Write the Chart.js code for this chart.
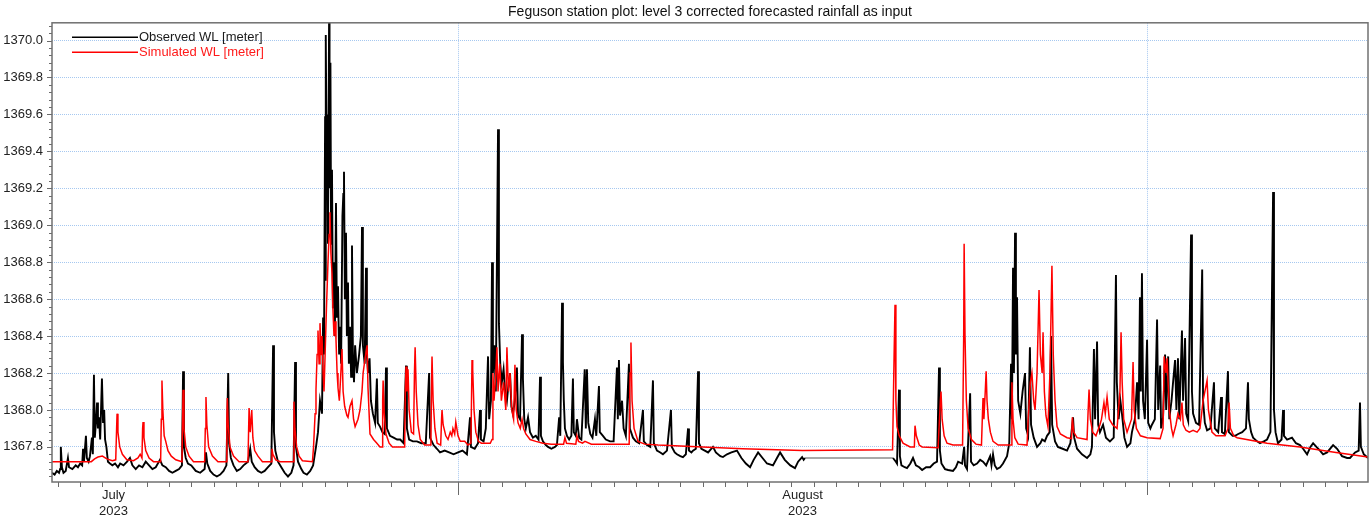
<!DOCTYPE html>
<html>
<head>
<meta charset="utf-8">
<script src="https://cdn.jsdelivr.net/npm/chart.js@4.4.0/dist/chart.umd.min.js"></script>
<style>
  html, body { margin: 0; padding: 0; background: #fff; }
  #wrap { width: 1371px; height: 522px; }
</style>
</head>
<body>
<div id="wrap"><canvas id="wlChart" width="1371" height="522"></canvas></div>
<script>
// time is in days counted from 1 July 2023 00:00, levels in metres
const observedWL = [
  [12.73,1367.66],[12.85,1367.65],[12.95,1367.67],[13.05,1367.66],[13.10,1367.68],[13.13,1367.80],[13.18,1367.69],[13.25,1367.66],
  [13.35,1367.67],[13.45,1367.74],[13.50,1367.69],[13.65,1367.68],[13.80,1367.70],[13.90,1367.69],[14.00,1367.71],[14.09,1367.70],
  [14.13,1367.79],[14.17,1367.72],[14.26,1367.86],[14.30,1367.74],[14.38,1367.72],[14.44,1367.75],[14.53,1367.85],[14.57,1367.76],
  [14.62,1368.19],[14.66,1367.85],[14.72,1367.95],[14.76,1368.04],[14.80,1367.90],[14.85,1367.96],[14.90,1367.84],[14.98,1368.17],
  [15.03,1367.93],[15.08,1368.00],[15.12,1367.84],[15.18,1367.80],[15.25,1367.72],[15.34,1367.71],[15.45,1367.70],[15.57,1367.71],
  [15.70,1367.69],[15.80,1367.71],[15.95,1367.70],[16.11,1367.72],[16.24,1367.74],[16.35,1367.70],[16.50,1367.68],[16.65,1367.70],
  [16.80,1367.69],[16.95,1367.72],[17.10,1367.70],[17.25,1367.68],[17.40,1367.69],[17.59,1367.73],[17.70,1367.70],[17.85,1367.69],
  [18.00,1367.67],[18.15,1367.66],[18.30,1367.67],[18.45,1367.68],[18.58,1367.70],[18.63,1368.21],[18.67,1367.80],[18.75,1367.74],
  [18.85,1367.71],[19.00,1367.70],[19.20,1367.67],[19.40,1367.66],[19.60,1367.68],[19.66,1367.77],[19.72,1367.71],[19.85,1367.67],
  [20.00,1367.65],[20.15,1367.64],[20.30,1367.65],[20.45,1367.67],[20.58,1367.70],[20.66,1368.20],[20.70,1367.82],[20.78,1367.74],
  [20.90,1367.70],[21.05,1367.67],[21.20,1367.68],[21.35,1367.70],[21.55,1367.72],[21.65,1367.79],[21.72,1367.72],[21.85,1367.69],
  [22.00,1367.67],[22.15,1367.66],[22.30,1367.67],[22.45,1367.69],[22.60,1367.71],[22.68,1368.35],[22.72,1367.88],[22.78,1367.78],
  [22.90,1367.72],[23.05,1367.69],[23.20,1367.66],[23.35,1367.64],[23.50,1367.66],[23.60,1367.70],[23.67,1368.26],[23.71,1367.80],
  [23.80,1367.72],[23.95,1367.68],[24.05,1367.66],[24.20,1367.65],[24.35,1367.67],[24.48,1367.70],[24.61,1367.80],[24.70,1367.88],
  [24.79,1368.05],[24.88,1367.98],[24.93,1368.50],[24.97,1368.30],[25.02,1369.59],[25.04,1368.70],[25.06,1370.03],[25.09,1369.30],
  [25.11,1369.60],[25.15,1368.90],[25.20,1370.15],[25.22,1369.20],[25.26,1369.88],[25.29,1368.90],[25.33,1369.30],[25.37,1368.55],
  [25.42,1368.80],[25.46,1368.40],[25.51,1369.12],[25.55,1368.50],[25.60,1368.67],[25.65,1368.30],[25.70,1368.45],[25.74,1368.25],
  [25.80,1369.05],[25.84,1369.17],[25.87,1369.29],[25.91,1368.60],[25.96,1368.96],[26.00,1368.40],[26.05,1368.69],[26.09,1368.25],
  [26.14,1368.45],[26.19,1368.18],[26.23,1368.89],[26.27,1368.30],[26.32,1368.15],[26.37,1368.35],[26.45,1368.20],[26.55,1368.30],
  [26.63,1368.40],[26.68,1368.99],[26.72,1368.35],[26.80,1368.25],[26.86,1368.77],[26.90,1368.30],[26.95,1368.20],[27.02,1368.28],
  [27.08,1368.05],[27.17,1367.98],[27.27,1367.93],[27.35,1368.17],[27.39,1367.93],[27.49,1367.91],[27.60,1367.88],[27.70,1367.87],
  [27.76,1368.23],[27.80,1367.90],[27.94,1367.86],[28.10,1367.85],[28.26,1367.84],[28.40,1367.84],[28.55,1367.82],[28.66,1368.24],
  [28.70,1367.90],[28.80,1367.84],[28.97,1367.83],[29.15,1367.83],[29.35,1367.82],[29.55,1367.82],[29.70,1368.20],[29.74,1367.85],
  [29.90,1367.81],[30.05,1367.79],[30.19,1367.77],[30.40,1367.78],[30.60,1367.77],[30.80,1367.76],[31.00,1367.77],[31.20,1367.78],
  [31.40,1367.76],[31.54,1367.96],[31.58,1367.80],[31.75,1367.79],[31.90,1367.82],[31.99,1368.00],[32.03,1367.84],[32.15,1367.83],
  [32.25,1367.90],[32.35,1368.29],[32.40,1367.95],[32.48,1368.05],[32.53,1368.80],[32.57,1368.20],[32.63,1368.35],[32.70,1368.10],
  [32.80,1369.52],[32.84,1368.47],[32.90,1368.25],[32.97,1368.15],[33.05,1368.22],[33.12,1368.10],[33.20,1368.05],[33.28,1368.15],
  [33.34,1368.20],[33.40,1368.02],[33.47,1367.98],[33.56,1368.05],[33.65,1368.23],[33.70,1367.97],[33.79,1367.95],[33.88,1368.41],
  [33.92,1368.17],[33.98,1367.95],[34.05,1367.90],[34.15,1367.96],[34.24,1367.88],[34.37,1367.85],[34.50,1367.86],[34.62,1367.84],
  [34.69,1368.18],[34.73,1367.86],[34.82,1367.83],[34.95,1367.81],[35.05,1367.80],[35.20,1367.79],[35.36,1367.80],[35.45,1367.81],
  [35.55,1367.96],[35.60,1367.86],[35.68,1368.58],[35.72,1368.26],[35.76,1368.05],[35.81,1367.90],[35.90,1367.86],[36.00,1367.84],
  [36.10,1367.86],[36.17,1368.17],[36.21,1367.88],[36.30,1367.86],[36.35,1367.95],[36.45,1367.85],[36.55,1367.84],[36.70,1368.22],
  [36.75,1367.90],[36.80,1368.22],[36.86,1367.93],[36.95,1367.87],[37.05,1367.85],[37.16,1367.95],[37.22,1367.86],[37.34,1368.13],
  [37.38,1367.88],[37.52,1367.86],[37.65,1367.84],[37.84,1367.83],[38.00,1367.83],[38.15,1368.23],[38.19,1367.95],[38.24,1368.27],
  [38.29,1367.97],[38.38,1368.05],[38.45,1367.90],[38.55,1367.86],[38.69,1368.25],[38.73,1367.90],[38.87,1367.85],[39.00,1367.83],
  [39.15,1367.82],[39.32,1368.00],[39.36,1367.83],[39.50,1367.81],[39.65,1367.80],[39.77,1368.16],[39.81,1367.82],[39.95,1367.78],
  [40.10,1367.77],[40.22,1367.76],[40.40,1367.78],[40.58,1368.00],[40.62,1367.80],[40.75,1367.77],[40.85,1367.76],[41.00,1367.75],
  [41.12,1367.745],[41.25,1367.76],[41.35,1367.90],[41.39,1367.78],[41.50,1367.77],[41.57,1367.78],[41.70,1367.79],[41.80,1368.21],
  [41.84,1367.82],[41.95,1367.79],[42.10,1367.78],[42.25,1367.77],[42.47,1367.80],[42.60,1367.77],[42.80,1367.75],[42.92,1367.745],
  [43.10,1367.76],[43.30,1367.77],[43.55,1367.78],[43.75,1367.74],[43.95,1367.71],[44.14,1367.69],[44.30,1367.73],[44.50,1367.77],
  [44.70,1367.74],[44.90,1367.71],[45.17,1367.70],[45.35,1367.74],[45.49,1367.77],[45.70,1367.73],[45.95,1367.70],[46.16,1367.685],
  [46.30,1367.72],[46.48,1367.745],[46.55,1367.73],[46.61,1367.74],[50.57,1367.74],[50.70,1367.72],[50.75,1367.71],[50.84,1368.11],
  [50.88,1367.75],[50.95,1367.70],[51.10,1367.69],[51.20,1367.685],[51.35,1367.71],[51.47,1367.74],[51.60,1367.70],[51.75,1367.69],
  [51.88,1367.675],[52.06,1367.69],[52.24,1367.69],[52.40,1367.71],[52.55,1367.72],[52.64,1368.23],[52.68,1367.78],[52.75,1367.71],
  [52.91,1367.68],[53.05,1367.675],[53.27,1367.67],[53.40,1367.69],[53.50,1367.72],[53.68,1367.71],[53.77,1367.80],[53.81,1367.70],
  [53.90,1367.68],[54.04,1368.09],[54.08,1367.72],[54.20,1367.70],[54.35,1367.71],[54.49,1367.73],[54.62,1367.72],[54.76,1367.70],
  [54.94,1367.75],[55.00,1367.70],[55.07,1367.76],[55.15,1367.70],[55.25,1367.68],[55.39,1367.69],[55.52,1367.71],[55.70,1367.75],
  [55.80,1367.82],[55.88,1368.25],[55.92,1367.95],[55.97,1368.77],[56.01,1368.20],[56.06,1368.96],[56.10,1368.30],[56.15,1368.61],
  [56.20,1368.05],[56.30,1367.98],[56.40,1368.10],[56.51,1368.20],[56.56,1367.90],[56.65,1367.86],[56.73,1368.34],[56.78,1367.92],
  [56.90,1367.85],[57.05,1367.80],[57.20,1367.82],[57.28,1367.84],[57.40,1367.83],[57.50,1367.86],[57.62,1367.88],[57.68,1368.40],
  [57.73,1367.92],[57.86,1367.83],[57.99,1367.80],[58.20,1367.79],[58.40,1367.78],[58.55,1367.82],[58.67,1367.96],[58.72,1367.85],
  [58.85,1367.79],[59.07,1367.76],[59.30,1367.74],[59.45,1367.76],[59.52,1367.80],[59.61,1368.33],[59.66,1367.95],[59.75,1368.37],
  [59.80,1367.92],[59.88,1367.88],[60.02,1367.92],[60.15,1367.85],[60.33,1367.83],[60.50,1367.85],[60.60,1368.73],[60.64,1368.15],
  [60.72,1367.95],[60.80,1368.05],[60.87,1367.98],[60.98,1367.85],[61.10,1367.80],[61.25,1367.82],[61.32,1367.88],[61.45,1367.95],
  [61.55,1368.15],[61.62,1367.95],[61.68,1368.61],[61.72,1368.10],[61.77,1368.74],[61.82,1368.05],[61.90,1367.95],[62.00,1368.38],
  [62.05,1367.93],[62.15,1367.90],[62.22,1367.92],[62.35,1367.95],[62.45,1368.49],[62.50,1368.00],[62.59,1368.24],[62.63,1367.90],
  [62.72,1367.96],[62.81,1368.30],[62.86,1368.00],[62.95,1368.29],[63.00,1367.95],[63.10,1368.05],[63.17,1368.15],[63.26,1368.27],
  [63.32,1368.00],[63.39,1368.28],[63.45,1367.95],[63.57,1368.43],[63.62,1368.05],[63.71,1368.39],[63.76,1367.98],[63.85,1367.94],
  [63.98,1368.95],[64.02,1368.10],[64.07,1367.98],[64.20,1367.93],[64.34,1367.92],[64.48,1368.76],[64.52,1368.05],[64.60,1367.93],
  [64.70,1367.89],[64.85,1367.90],[65.01,1368.15],[65.05,1367.90],[65.20,1367.88],[65.33,1368.07],[65.37,1367.88],[65.50,1367.87],
  [65.64,1368.21],[65.68,1367.88],[65.85,1367.86],[65.96,1367.86],[66.10,1367.87],[66.28,1367.88],[66.45,1367.90],[66.54,1368.15],
  [66.58,1367.95],[66.68,1367.88],[66.77,1367.85],[66.95,1367.83],[67.08,1367.82],[67.25,1367.83],[67.40,1367.84],[67.55,1367.88],
  [67.67,1369.18],[67.71,1368.00],[67.78,1367.88],[67.89,1367.82],[68.05,1367.84],[68.12,1368.00],[68.16,1367.86],[68.30,1367.84],
  [68.52,1367.85],[68.70,1367.82],[68.88,1367.81],[69.02,1367.79],[69.20,1367.76],[69.35,1367.80],[69.47,1367.82],[69.62,1367.80],
  [69.78,1367.78],[69.92,1367.76],[70.10,1367.77],[70.37,1367.81],[70.55,1367.79],[70.77,1367.75],[71.00,1367.74],[71.13,1367.74],
  [71.36,1367.77],[71.52,1367.78],[71.58,1368.04],[71.62,1367.80],[71.75,1367.76],[71.94,1367.74]
];

const simulatedWL = [
  [12.73,1367.72],[14.50,1367.72],[14.65,1367.735],[14.80,1367.745],[15.00,1367.75],[15.20,1367.735],[15.45,1367.725],[15.60,1367.73],
  [15.64,1367.90],[15.66,1367.98],[15.70,1367.88],[15.78,1367.80],[15.90,1367.76],[16.10,1367.73],[16.40,1367.725],[16.60,1367.74],
  [16.70,1367.76],[16.78,1367.74],[16.81,1367.90],[16.83,1367.935],[16.87,1367.85],[16.95,1367.78],[17.10,1367.74],[17.30,1367.72],
  [17.62,1367.72],[17.65,1367.95],[17.68,1368.16],[17.72,1368.00],[17.78,1367.86],[17.85,1367.83],[17.95,1367.78],[18.10,1367.75],
  [18.30,1367.73],[18.58,1367.72],[18.61,1367.95],[18.63,1368.11],[18.67,1367.90],[18.75,1367.80],[18.90,1367.75],[19.10,1367.72],
  [19.60,1367.72],[19.63,1367.90],[19.66,1368.07],[19.70,1367.92],[19.78,1367.80],[19.95,1367.75],[20.20,1367.72],[20.57,1367.72],
  [20.60,1367.95],[20.62,1368.065],[20.66,1367.92],[20.74,1367.80],[20.90,1367.75],[21.15,1367.72],[21.55,1367.72],[21.58,1367.90],
  [21.60,1368.01],[21.65,1367.88],[21.72,1368.00],[21.77,1367.85],[21.85,1367.78],[22.00,1367.75],[22.20,1367.72],[22.60,1367.72],
  [22.63,1367.79],[22.67,1367.76],[22.80,1367.73],[23.00,1367.72],[23.59,1367.72],[23.62,1368.045],[23.66,1367.90],[23.74,1367.80],
  [23.85,1367.75],[24.00,1367.725],[24.45,1367.72],[24.50,1367.80],[24.57,1367.98],[24.61,1368.11],[24.66,1368.30],[24.70,1368.43],
  [24.75,1368.25],[24.79,1368.47],[24.84,1368.30],[24.88,1368.40],[24.93,1368.20],[24.97,1368.10],[25.02,1368.30],[25.08,1368.55],
  [25.15,1368.80],[25.20,1368.95],[25.24,1369.07],[25.28,1368.85],[25.33,1368.74],[25.37,1368.55],[25.42,1368.40],[25.47,1368.48],
  [25.51,1368.38],[25.56,1368.20],[25.60,1368.12],[25.66,1368.05],[25.72,1368.18],[25.78,1368.33],[25.83,1368.10],[25.90,1368.02],
  [26.00,1367.97],[26.05,1367.96],[26.14,1368.02],[26.23,1368.05],[26.30,1367.95],[26.37,1367.91],[26.50,1367.95],[26.59,1368.00],
  [26.68,1368.10],[26.73,1368.20],[26.82,1368.28],[26.91,1368.35],[26.95,1368.12],[27.04,1367.87],[27.20,1367.84],[27.35,1367.82],
  [27.49,1367.80],[27.58,1367.80],[27.61,1368.05],[27.63,1368.16],[27.68,1367.98],[27.76,1367.87],[27.90,1367.82],[28.05,1367.80],
  [28.60,1367.80],[28.63,1368.10],[28.66,1368.235],[28.70,1368.10],[28.75,1368.22],[28.80,1368.00],[28.90,1367.88],[29.00,1367.87],
  [29.04,1368.20],[29.07,1368.34],[29.12,1368.10],[29.20,1367.92],[29.30,1367.84],[29.50,1367.81],[29.78,1367.81],[29.81,1368.15],
  [29.83,1368.29],[29.88,1368.05],[29.96,1367.90],[30.06,1367.82],[30.22,1367.81],[30.26,1367.95],[30.28,1368.00],[30.33,1367.92],
  [30.45,1367.86],[30.55,1367.84],[30.65,1367.88],[30.72,1367.86],[30.77,1367.90],[30.85,1367.87],[30.90,1367.935],[31.00,1367.86],
  [31.10,1367.83],[31.30,1367.83],[31.45,1367.81],[31.58,1367.82],[31.63,1368.27],[31.66,1368.22],[31.72,1368.00],[31.80,1367.88],
  [31.92,1367.83],[32.05,1367.82],[32.45,1367.82],[32.53,1367.84],[32.57,1368.20],[32.62,1368.05],[32.70,1368.20],[32.75,1368.34],
  [32.80,1368.10],[32.88,1368.25],[32.95,1368.05],[33.05,1368.15],[33.15,1368.00],[33.20,1368.34],[33.27,1368.10],[33.34,1368.20],
  [33.42,1368.00],[33.50,1367.95],[33.56,1368.245],[33.62,1368.00],[33.70,1367.93],[33.80,1367.90],[33.88,1367.95],[33.95,1367.90],
  [34.05,1367.87],[34.24,1367.84],[34.50,1367.83],[34.82,1367.82],[35.20,1367.815],[35.75,1367.815],[35.81,1367.85],[35.88,1367.82],
  [36.30,1367.815],[36.35,1367.86],[36.42,1367.83],[36.60,1367.82],[36.71,1367.83],[37.00,1367.815],[38.70,1367.815],[38.74,1368.20],
  [38.78,1368.365],[38.83,1368.05],[38.92,1367.90],[39.10,1367.83],[39.40,1367.815],[40.00,1367.81],[42.00,1367.80],[43.80,1367.79],
  [46.50,1367.78],[50.55,1367.785],[50.62,1368.30],[50.66,1368.57],[50.70,1368.05],[50.75,1367.91],[50.85,1367.86],[51.02,1367.82],
  [51.34,1367.80],[51.53,1367.80],[51.56,1367.915],[51.62,1367.86],[51.75,1367.81],[51.88,1367.80],[52.60,1367.795],[52.70,1368.05],
  [52.73,1368.10],[52.78,1367.95],[52.87,1367.86],[53.00,1367.82],[53.27,1367.81],[53.70,1367.81],[53.75,1368.40],[53.77,1368.90],
  [53.81,1368.40],[53.87,1368.05],[53.95,1367.90],[54.10,1367.84],[54.30,1367.815],[54.55,1367.81],[54.60,1368.00],[54.62,1368.065],
  [54.66,1367.95],[54.72,1368.10],[54.76,1368.21],[54.80,1368.05],[54.86,1367.95],[54.95,1367.88],[55.07,1367.83],[55.30,1367.81],
  [55.88,1367.81],[55.92,1368.15],[55.97,1367.95],[56.05,1367.85],[56.20,1367.815],[56.60,1367.81],[56.65,1367.95],[56.75,1368.15],
  [56.82,1368.20],[56.90,1368.05],[56.96,1368.00],[57.05,1368.20],[57.14,1368.65],[57.20,1368.30],[57.28,1368.20],[57.32,1368.42],
  [57.38,1368.10],[57.45,1367.97],[57.54,1367.91],[57.63,1368.20],[57.72,1368.78],[57.78,1368.30],[57.86,1368.05],[57.95,1367.91],
  [58.10,1367.87],[58.40,1367.85],[58.60,1367.845],[58.64,1367.96],[58.70,1367.88],[58.85,1367.85],[59.30,1367.84],[59.35,1368.00],
  [59.39,1368.11],[59.45,1367.95],[59.55,1367.88],[59.70,1367.86],[59.88,1367.92],[59.95,1367.95],[60.06,1368.04],[60.12,1367.98],
  [60.20,1368.07],[60.30,1367.95],[60.45,1367.92],[60.65,1367.90],[60.78,1368.10],[60.83,1368.42],[60.88,1368.15],[60.95,1367.95],
  [61.10,1367.88],[61.30,1367.95],[61.37,1368.26],[61.42,1368.00],[61.52,1367.90],[61.70,1367.86],[62.00,1367.85],[62.59,1367.845],
  [62.72,1367.90],[62.77,1368.29],[62.85,1368.20],[62.90,1368.28],[63.00,1368.00],[63.10,1367.90],[63.17,1367.86],[63.30,1367.92],
  [63.39,1367.98],[63.50,1367.95],[63.57,1368.04],[63.63,1367.92],[63.75,1367.89],[63.90,1367.88],[64.07,1367.89],[64.25,1367.88],
  [64.38,1367.90],[64.52,1368.05],[64.70,1368.16],[64.76,1368.00],[64.92,1367.88],[65.10,1367.86],[65.51,1367.86],[65.64,1367.90],
  [65.69,1368.04],[65.75,1367.90],[65.90,1367.86],[66.05,1367.85],[67.40,1367.82],[68.88,1367.80],[70.50,1367.77],[71.94,1367.745]
];

const monthStarts = [31, 62];                                  // 1 Aug, 1 Sep
const monthLabels = [[15.5, 'July', '2023'], [46.5, 'August', '2023']];
const levelTicks = [1367.8, 1368.0, 1368.2, 1368.4, 1368.6, 1368.8, 1369.0, 1369.2, 1369.4, 1369.6, 1369.8, 1370.0];

const FONT = 'Arial, "Liberation Sans", sans-serif';
const GRID_BLUE = '#a6c8f0';

// tick marks, plot frame and the legend inside the plot
const plotDecor = {
  id: 'plotDecor',
  afterDraw(chart) {
    const { ctx, chartArea: a, scales: { x, y } } = chart;
    ctx.save();
    ctx.strokeStyle = '#6a6a6a';
    ctx.lineWidth = 1;
    ctx.beginPath();
    for (let d = Math.ceil(x.min); d <= x.max; d++) {
      const px = Math.round(x.getPixelForValue(d)) + 0.5;
      const len = monthStarts.includes(d) ? 13 : 5;
      ctx.moveTo(px, a.bottom);
      ctx.lineTo(px, a.bottom + len);
    }
    for (let k = Math.ceil(y.min * 25); k <= y.max * 25; k++) {
      const py = Math.round(y.getPixelForValue(k / 25)) + 0.5;
      const len = k % 5 === 0 ? 5 : 3;
      ctx.moveTo(a.left - len, py);
      ctx.lineTo(a.left, py);
    }
    ctx.stroke();

    ctx.strokeStyle = '#707070';
    ctx.lineWidth = 1.5;
    ctx.strokeRect(a.left, a.top, a.right - a.left, a.bottom - a.top);

    ctx.font = '13px ' + FONT;
    ctx.textBaseline = 'middle';
    const textColors = ['#1a1a1a', '#ff1a1a'];
    chart.data.datasets.forEach((ds, i) => {
      const ly = a.top + 14.5 + i * 15;
      ctx.strokeStyle = ds.borderColor;
      ctx.lineWidth = 1.5;
      ctx.beginPath();
      ctx.moveTo(a.left + 20, ly);
      ctx.lineTo(a.left + 86, ly);
      ctx.stroke();
      ctx.fillStyle = textColors[i];
      ctx.fillText(ds.label, a.left + 87, ly);
    });
    ctx.restore();
  }
};

const toPoints = (rows) => rows.map(r => ({ x: r[0], y: r[1] }));

new Chart(document.getElementById('wlChart'), {
  type: 'line',
  data: {
    datasets: [
      {
        label: 'Observed WL [meter]',
        data: toPoints(observedWL),
        borderColor: '#000000',
        borderWidth: 1.9,
        pointRadius: 0,
        tension: 0,
        order: 1,
        segment: {
          // the long gap in the record is bridged by a thin straight line
          borderColor: (c) => (c.p1.parsed.x - c.p0.parsed.x > 1 ? '#555555' : undefined),
          borderWidth: (c) => (c.p1.parsed.x - c.p0.parsed.x > 1 ? 1.2 : undefined)
        }
      },
      {
        label: 'Simulated WL [meter]',
        data: toPoints(simulatedWL),
        borderColor: '#ff0000',
        borderWidth: 1.5,
        pointRadius: 0,
        tension: 0,
        order: 0
      }
    ]
  },
  options: {
    responsive: false,
    animation: false,
    devicePixelRatio: 1,
    parsing: false,
    layout: { padding: { left: 0, right: 3, top: 0, bottom: 0 } },
    scales: {
      x: {
        type: 'linear',
        min: 12.733,
        max: 71.94,
        afterBuildTicks: (axis) => {
          const t = [];
          for (let d = Math.ceil(axis.min); d <= axis.max; d++) t.push({ value: d });
          monthLabels.forEach(m => t.push({ value: m[0] }));
          t.sort((p, q) => p.value - q.value);
          axis.ticks = t;
        },
        afterFit: (scale) => { scale.height = 40; },
        ticks: {
          autoSkip: false,
          maxRotation: 0,
          padding: 6,
          color: '#222',
          font: { family: FONT, size: 13, lineHeight: 1.2 },
          callback: (v) => {
            const m = monthLabels.find(r => r[0] === v);
            return m ? [m[1], m[2]] : '';
          }
        },
        grid: {
          drawTicks: false,
          lineWidth: 1,
          color: (c) => (c.tick && monthStarts.includes(c.tick.value) ? GRID_BLUE : 'rgba(0,0,0,0)')
        },
        border: { display: false, dash: [1, 1] }
      },
      y: {
        type: 'linear',
        min: 1367.610,
        max: 1370.096,
        afterBuildTicks: (axis) => { axis.ticks = levelTicks.map(v => ({ value: v })); },
        afterFit: (scale) => { scale.width = 52; },
        ticks: {
          padding: 9,
          color: '#222',
          font: { family: FONT, size: 13 },
          callback: (v) => v.toFixed(1)
        },
        grid: { drawTicks: false, lineWidth: 1, color: GRID_BLUE },
        border: { display: false, dash: [1, 1] }
      }
    },
    plugins: {
      legend: { display: false },
      tooltip: { enabled: false },
      title: {
        display: true,
        fullSize: false,
        text: 'Feguson station plot: level 3 corrected forecasted rainfall as input',
        color: '#111',
        font: { family: FONT, size: 14, weight: 'normal', lineHeight: 1.2 },
        padding: { top: 4, bottom: 2 }
      }
    }
  },
  plugins: [plotDecor]
});
</script>
</body>
</html>
